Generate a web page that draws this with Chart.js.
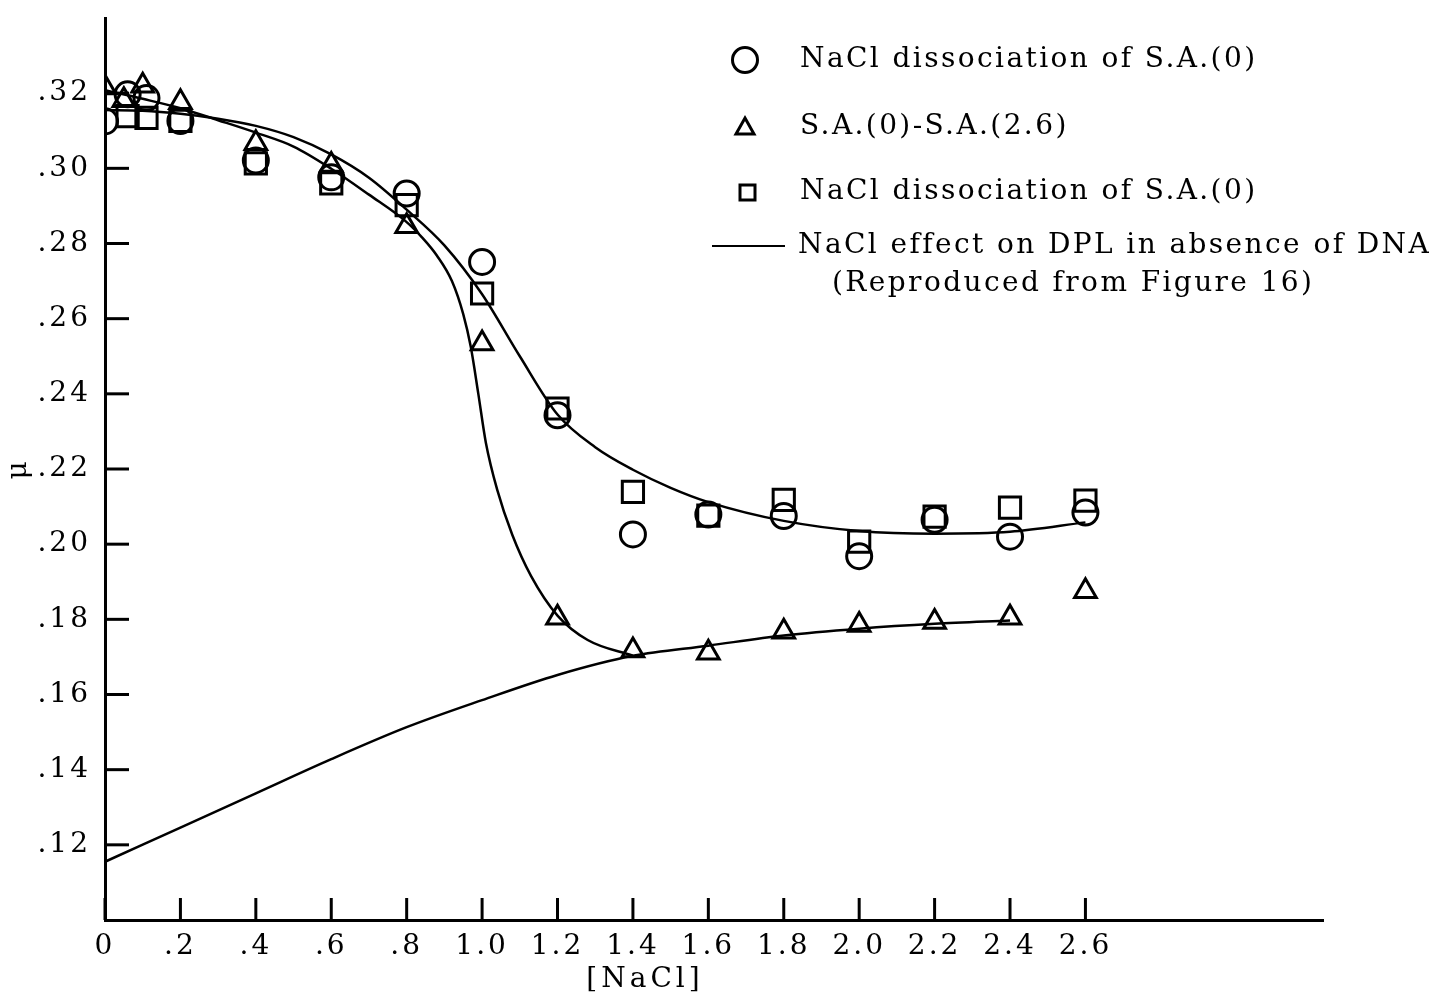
<!DOCTYPE html>
<html>
<head>
<meta charset="utf-8">
<script src="https://cdn.jsdelivr.net/npm/chart.js@4.4.1/dist/chart.umd.min.js"></script>
<style>
  html, body { margin: 0; padding: 0; background: #fff; }
  #wrap { width: 1433px; height: 999px; }
</style>
</head>
<body>
<div id="wrap"><canvas id="chart"></canvas></div>
<script>
// points
const circleX = [0, 0.06, 0.11, 0.2, 0.4, 0.6, 0.8, 1.0, 1.2, 1.4, 1.6, 1.8, 2.0, 2.2, 2.4, 2.6];
const circleY = [0.3125, 0.3197, 0.3187, 0.3126, 0.3021, 0.2976, 0.2933, 0.2751, 0.2343, 0.2026, 0.2079, 0.2075, 0.1968, 0.2065, 0.2020, 0.2084];

const triX = [0, 0.05, 0.1, 0.2, 0.4, 0.6, 0.8, 1.0, 1.2, 1.4, 1.6, 1.8, 2.0, 2.2, 2.4, 2.6];
const triY = [0.3215, 0.3181, 0.3220, 0.3176, 0.3067, 0.3009, 0.2846, 0.2534, 0.1804, 0.1717, 0.1711, 0.1767, 0.1785, 0.1793, 0.1804, 0.1875];

const squareX = [0.06, 0.11, 0.2, 0.4, 0.6, 0.8, 1.0, 1.2, 1.4, 1.6, 1.8, 2.0, 2.2, 2.4, 2.6];
const squareY = [0.3139, 0.3134, 0.3126, 0.3013, 0.2960, 0.2902, 0.2667, 0.2361, 0.2139, 0.2076, 0.2118, 0.2007, 0.2073, 0.2097, 0.2116];

// fitted curves (traced)
const curveAX = [0, 0.1, 0.2, 0.3, 0.4, 0.5, 0.6, 0.7, 0.8, 0.9, 1.0, 1.1, 1.2, 1.3, 1.4, 1.5, 1.6, 1.8, 2.0, 2.2, 2.4, 2.6];
const curveAY = [0.3155, 0.3153, 0.3145, 0.3132, 0.3113, 0.3083, 0.3037, 0.2975, 0.2890, 0.2795, 0.2665, 0.2500, 0.2345, 0.2258, 0.2198, 0.2150, 0.2112, 0.2062, 0.2035, 0.2028, 0.2033, 0.2058];

const curveBX = [0, 0.1, 0.2, 0.3, 0.4, 0.5, 0.6, 0.7, 0.8, 0.84, 0.88, 0.92, 0.95, 0.97, 0.99, 1.01, 1.04, 1.08, 1.13, 1.2, 1.28, 1.4];
const curveBY = [0.3208, 0.3185, 0.3160, 0.3128, 0.3095, 0.3058, 0.2999, 0.2930, 0.2857, 0.2817, 0.2768, 0.2700, 0.2612, 0.2525, 0.2400, 0.2270, 0.2145, 0.2025, 0.1915, 0.1810, 0.1745, 0.1703];

const curveCX = [0, 0.2, 0.4, 0.6, 0.8, 1.0, 1.2, 1.4, 1.6, 1.8, 2.0, 2.2, 2.4];
const curveCY = [0.1155, 0.1246, 0.1337, 0.1428, 0.1513, 0.1585, 0.1652, 0.1703, 0.1730, 0.1757, 0.1775, 0.1788, 0.1797];

// axes
const xTickValues = [0, 0.2, 0.4, 0.6, 0.8, 1.0, 1.2, 1.4, 1.6, 1.8, 2.0, 2.2, 2.4, 2.6];
const xTickLabels = ['0', '.2', '.4', '.6', '.8', '1.0', '1.2', '1.4', '1.6', '1.8', '2.0', '2.2', '2.4', '2.6'];
const yTickValues = [0.12, 0.14, 0.16, 0.18, 0.20, 0.22, 0.24, 0.26, 0.28, 0.30, 0.32];
const yTickLabels = ['.12', '.14', '.16', '.18', '.20', '.22', '.24', '.26', '.28', '.30', '.32'];

const legendLabels = [
    'NaCl dissociation of S.A.(0)',
    'S.A.(0)-S.A.(2.6)',
    'NaCl dissociation of S.A.(0)',
    'NaCl effect on DPL in absence of DNA',
    '(Reproduced from Figure 16)'
];
const xTitle = '[NaCl]';
const yTitle = 'μ';

const FONT = '"DejaVu Serif", "Liberation Serif", serif';

const toPoints = (xs, ys) => xs.map((x, i) => ({ x: x, y: ys[i] }));

const markerSet = (label, xs, ys, style, radius) => ({
    label: label,
    data: toPoints(xs, ys),
    showLine: false,
    pointStyle: style,
    pointRadius: radius,
    pointBorderWidth: 3,
    pointBorderColor: '#000',
    pointBackgroundColor: 'rgba(0,0,0,0)',
    order: 1
});

const curveSet = (label, xs, ys) => ({
    label: label,
    data: toPoints(xs, ys),
    showLine: true,
    borderColor: '#000',
    borderWidth: 2.5,
    pointRadius: 0,
    cubicInterpolationMode: 'monotone',
    order: 2
});

// axis tick marks point inward, and the legend sits inside the plot
const extras = {
    id: 'extras',
    beforeDraw(chart) {
        chart.ctx.letterSpacing = '3px';
    },
    afterDraw(chart) {
        const ctx = chart.ctx;
        const area = chart.chartArea;
        const xs = chart.scales.x;
        const ys = chart.scales.y;
        ctx.save();
        ctx.strokeStyle = '#000';
        ctx.lineWidth = 3;
        xTickValues.forEach((v) => {
            const px = xs.getPixelForValue(v);
            ctx.beginPath();
            ctx.moveTo(px, area.bottom);
            ctx.lineTo(px, area.bottom - 22);
            ctx.stroke();
        });
        yTickValues.forEach((v) => {
            const py = ys.getPixelForValue(v);
            ctx.beginPath();
            ctx.moveTo(area.left, py);
            ctx.lineTo(area.left + 24, py);
            ctx.stroke();
        });

        // x axis title
        ctx.fillStyle = '#000';
        ctx.font = '28px ' + FONT;
        ctx.letterSpacing = '4px';
        ctx.textAlign = 'center';
        ctx.textBaseline = 'middle';
        ctx.fillText(xTitle, 645, 980);

        // legend
        ctx.letterSpacing = '2.4px';
        ctx.font = '28px ' + FONT;
        ctx.textAlign = 'left';
        ctx.lineWidth = 3;

        ctx.beginPath();
        ctx.arc(745, 60, 12.5, 0, Math.PI * 2);
        ctx.stroke();
        ctx.fillText(legendLabels[0], 800, 60);

        ctx.beginPath();
        ctx.moveTo(745, 118);
        ctx.lineTo(754, 134);
        ctx.lineTo(736, 134);
        ctx.closePath();
        ctx.stroke();
        ctx.fillText(legendLabels[1], 800, 127);

        ctx.strokeRect(740, 185, 15, 15);
        ctx.fillText(legendLabels[2], 800, 192);

        ctx.lineWidth = 2;
        ctx.beginPath();
        ctx.moveTo(712, 246);
        ctx.lineTo(785, 246);
        ctx.stroke();
        ctx.fillText(legendLabels[3], 798, 246);
        ctx.fillText(legendLabels[4], 832, 284);
        ctx.restore();
    }
};

const ctx = document.getElementById('chart').getContext('2d');
new Chart(ctx, {
    type: 'scatter',
    data: {
        datasets: [
            markerSet(legendLabels[0], circleX, circleY, 'circle', 12.5),
            markerSet(legendLabels[1], triX, triY, 'triangle', 12.5),
            markerSet(legendLabels[2], squareX, squareY, 'rect', 15),
            curveSet('fit A', curveAX, curveAY),
            curveSet('fit B', curveBX, curveBY),
            curveSet(legendLabels[3], curveCX, curveCY)
        ]
    },
    options: {
        responsive: true,
        maintainAspectRatio: false,
        animation: false,
        layout: { padding: { top: 7, right: 110, left: 0, bottom: 0 } },
        plugins: {
            legend: { display: false },
            tooltip: { enabled: false }
        },
        scales: {
            x: {
                type: 'linear',
                min: 0,
                max: 3.23,
                afterBuildTicks: (scale) => { scale.ticks = xTickValues.map((v) => ({ value: v })); },
                afterFit: (scale) => {
                    scale.height = 79;
                    scale.paddingLeft = 0;
                    scale.paddingRight = 0;
                },
                grid: { display: false },
                border: { display: true, color: '#000', width: 3 },
                ticks: {
                    color: '#000',
                    font: { family: FONT, size: 28 },
                    padding: 2,
                    maxRotation: 0,
                    autoSkip: false,
                    callback: (v, i) => xTickLabels[i]
                }
            },
            y: {
                type: 'linear',
                min: 0.10,
                max: 0.34,
                afterBuildTicks: (scale) => { scale.ticks = yTickValues.map((v) => ({ value: v })); },
                afterFit: (scale) => {
                    scale.width = 105;
                    scale.paddingTop = 0;
                    scale.paddingBottom = 0;
                },
                grid: { display: false },
                border: { display: true, color: '#000', width: 3 },
                title: {
                    display: true,
                    text: yTitle,
                    color: '#000',
                    font: { family: FONT, size: 28 },
                    padding: { top: 2, bottom: 0 }
                },
                ticks: {
                    color: '#000',
                    font: { family: FONT, size: 28 },
                    padding: 6,
                    autoSkip: false,
                    callback: (v, i) => yTickLabels[i]
                }
            }
        }
    },
    plugins: [extras]
});
</script>
</body>
</html>
